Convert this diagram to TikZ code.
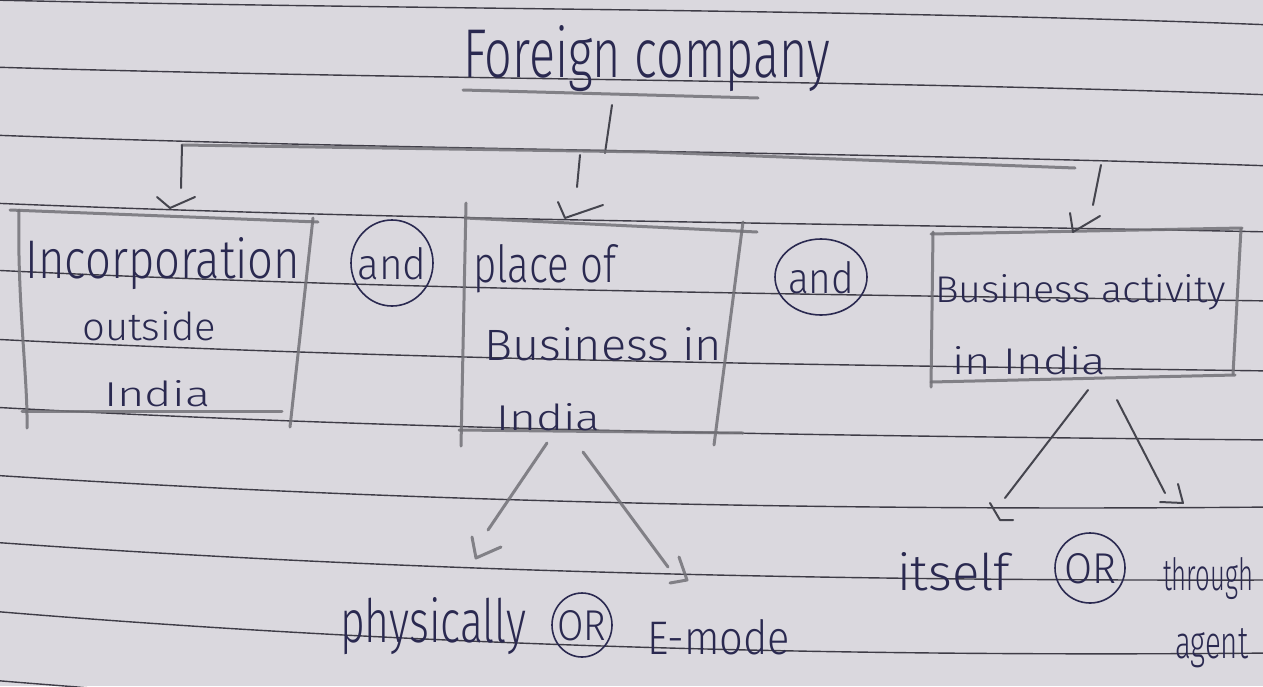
\documentclass[tikz,border=0pt]{standalone}
\usepackage{fontspec}
\setmainfont{Fira Sans}[UprightFont=* Light]
\usetikzlibrary{shapes.geometric}

\definecolor{paper}{HTML}{DAD8DE}
\definecolor{rulecol}{HTML}{3E3C46}
\definecolor{ink}{HTML}{2A2950}
\definecolor{pencil}{HTML}{727177}
\definecolor{graphite}{HTML}{45454E}

% lettering fitted to a given width and letter height
\newcommand\hand[3]{\resizebox{#1}{#2}{#3}}
% lettering centred inside a ring without widening it
\newcommand\inring[3]{\makebox[0pt]{\raisebox{-0.5\height}[0pt][0pt]{\hand{#1}{#2}{#3}}}}

\tikzset{
  ruled/.style={rulecol, line width=1.4pt},
  pencilline/.style={pencil, line width=3pt, line cap=round, line join=round, opacity=0.85},
  inkline/.style={graphite, line width=2pt, line cap=round, line join=round},
  word/.style={inner sep=0pt, text=ink, anchor=base west},
  ring/.style={ellipse, draw=ink, line width=1.6pt, inner sep=0pt, text=ink}
}

\begin{document}
\begin{tikzpicture}[x=1pt, y=-1pt]
\useasboundingbox (0,0) rectangle (1263,686);
\clip (0,0) rectangle (1263,686);
\fill[paper] (0,0) rectangle (1263,686);

% ruled notebook lines: left height / middle height / right height
\foreach \a/\b/\d in {0/10/25, 67/80/95, 135/151/166, 203/221/232,
    270/291/301, 339/361/371, 407/431/440, 475/503/507,
    542/573/580, 611/647/653, 680/716/722}{
  \pgfmathsetmacro\m{(5*\b-\a-\d)/3}
  \draw[ruled] (-10,\a) .. controls (420,\b) and (850,\m) .. (1273,\d);
}

% heading
\node[word] (title) at (463,77) {\hand{367pt}{52pt}{Foreign company}};
\draw[pencilline] (463,90) -- (758,98);

% three boxes
\draw[pencilline] (10,210) -- (318,222);
\draw[pencilline] (19,210) .. controls (17,300) and (28,380) .. (27,428);
\draw[pencilline] (22,411) -- (282,411);
\draw[pencilline] (313,218) -- (290,427);

\draw[pencilline] (465,218) -- (757,232);
\draw[pencilline] (466,203) -- (461,446);
\draw[pencilline] (459,430) -- (743,433);
\draw[pencilline] (743,222) -- (714,445);

\draw[pencilline] (931,234) -- (1242,228);
\draw[pencilline] (933,232) -- (931,387);
\draw[pencilline] (931,382) -- (1235,375);
\draw[pencilline] (1241,229) -- (1233,374);

\node[word] (inc1) at (25,278) {\hand{275pt}{41pt}{Incorporation}};
\node[word] (inc2) at (82,340) {\hand{134pt}{29pt}{outside}};
\node[word] (inc3) at (104,406) {\hand{106pt}{26pt}{India}};

\node[word] (pob1) at (473,282) {\hand{143pt}{38pt}{place of}};
\node[word] (pob2) at (484,360) {\hand{238pt}{33pt}{Business in}};
\node[word] (pob3) at (496,430) {\hand{104pt}{27pt}{India}};

\node[word] (act1) at (935,302) {\hand{291pt}{28pt}{Business activity}};
\node[word] (act2) at (952,374) {\hand{154pt}{28pt}{in India}};

\node[ring, minimum width=82pt, minimum height=86pt] (and1) at (392,263) {\inring{69pt}{32pt}{and}};
\node[ring, minimum width=92pt, minimum height=76pt] (and2) at (821,277) {\inring{66pt}{32pt}{and}};

% branching from the heading
\coordinate (trunkA) at (612,105);
\coordinate (trunkB) at (605,153);
\coordinate (barL) at (182,145);
\coordinate (barM) at (650,152);
\coordinate (barR) at (1075,168);
\draw[inkline] (trunkA) -- (trunkB);
\draw[pencilline] (barL) -- (barM) -- (barR);

\coordinate (dropL) at (181,188);
\draw[inkline] (barL) -- (dropL);
\draw[inkline] (157,197) -- (170,208) -- (195,197);

\coordinate (dropMa) at (580,155);
\coordinate (dropMb) at (577,187);
\draw[inkline] (dropMa) -- (dropMb);
\draw[inkline] (558,202) -- (565,218) -- (603,205);

\coordinate (dropRa) at (1101,165);
\coordinate (dropRb) at (1093,205);
\draw[inkline] (dropRa) -- (dropRb);
\draw[inkline] (1070,213) -- (1073,232) -- (1100,216);

% place of business: two modes
\coordinate (pA) at (547,443);
\coordinate (pB) at (488,530);
\coordinate (pC) at (583,452);
\coordinate (pD) at (668,567);
\draw[pencilline] (pA) -- (pB);
\draw[pencilline] (472,537) -- (476,558) -- (501,547);
\draw[pencilline] (pC) -- (pD);
\draw[pencilline] (679,557) -- (687,580) -- (670,583);

\node[word] (phys) at (340,642) {\hand{186pt}{45pt}{physically}};
\node[ring, minimum width=60pt, minimum height=64pt] (or1) at (582,625) {\inring{49pt}{30pt}{OR}};
\node[word] (emode) at (647,654) {\hand{143pt}{35pt}{E-mode}};

% business activity: two ways
\coordinate (aA) at (1088,390);
\coordinate (aB) at (1005,498);
\coordinate (aC) at (1117,400);
\coordinate (aD) at (1165,493);
\draw[inkline] (aA) -- (aB);
\draw[inkline] (990,503) -- (1000,520) -- (1013,520);
\draw[inkline] (aC) -- (aD);
\draw[inkline] (1178,484) -- (1183,503) -- (1160,502);

\node[word] (self) at (897,590) {\hand{113pt}{38pt}{itself}};
\node[ring, minimum width=70pt, minimum height=70pt] (or2) at (1090,568) {\inring{52pt}{30pt}{OR}};
\node[word] (thr) at (1163,590) {\hand{90pt}{33pt}{through}};
\node[word] (agt) at (1175,658) {\hand{73pt}{30pt}{agent}};
\end{tikzpicture}
\end{document}
